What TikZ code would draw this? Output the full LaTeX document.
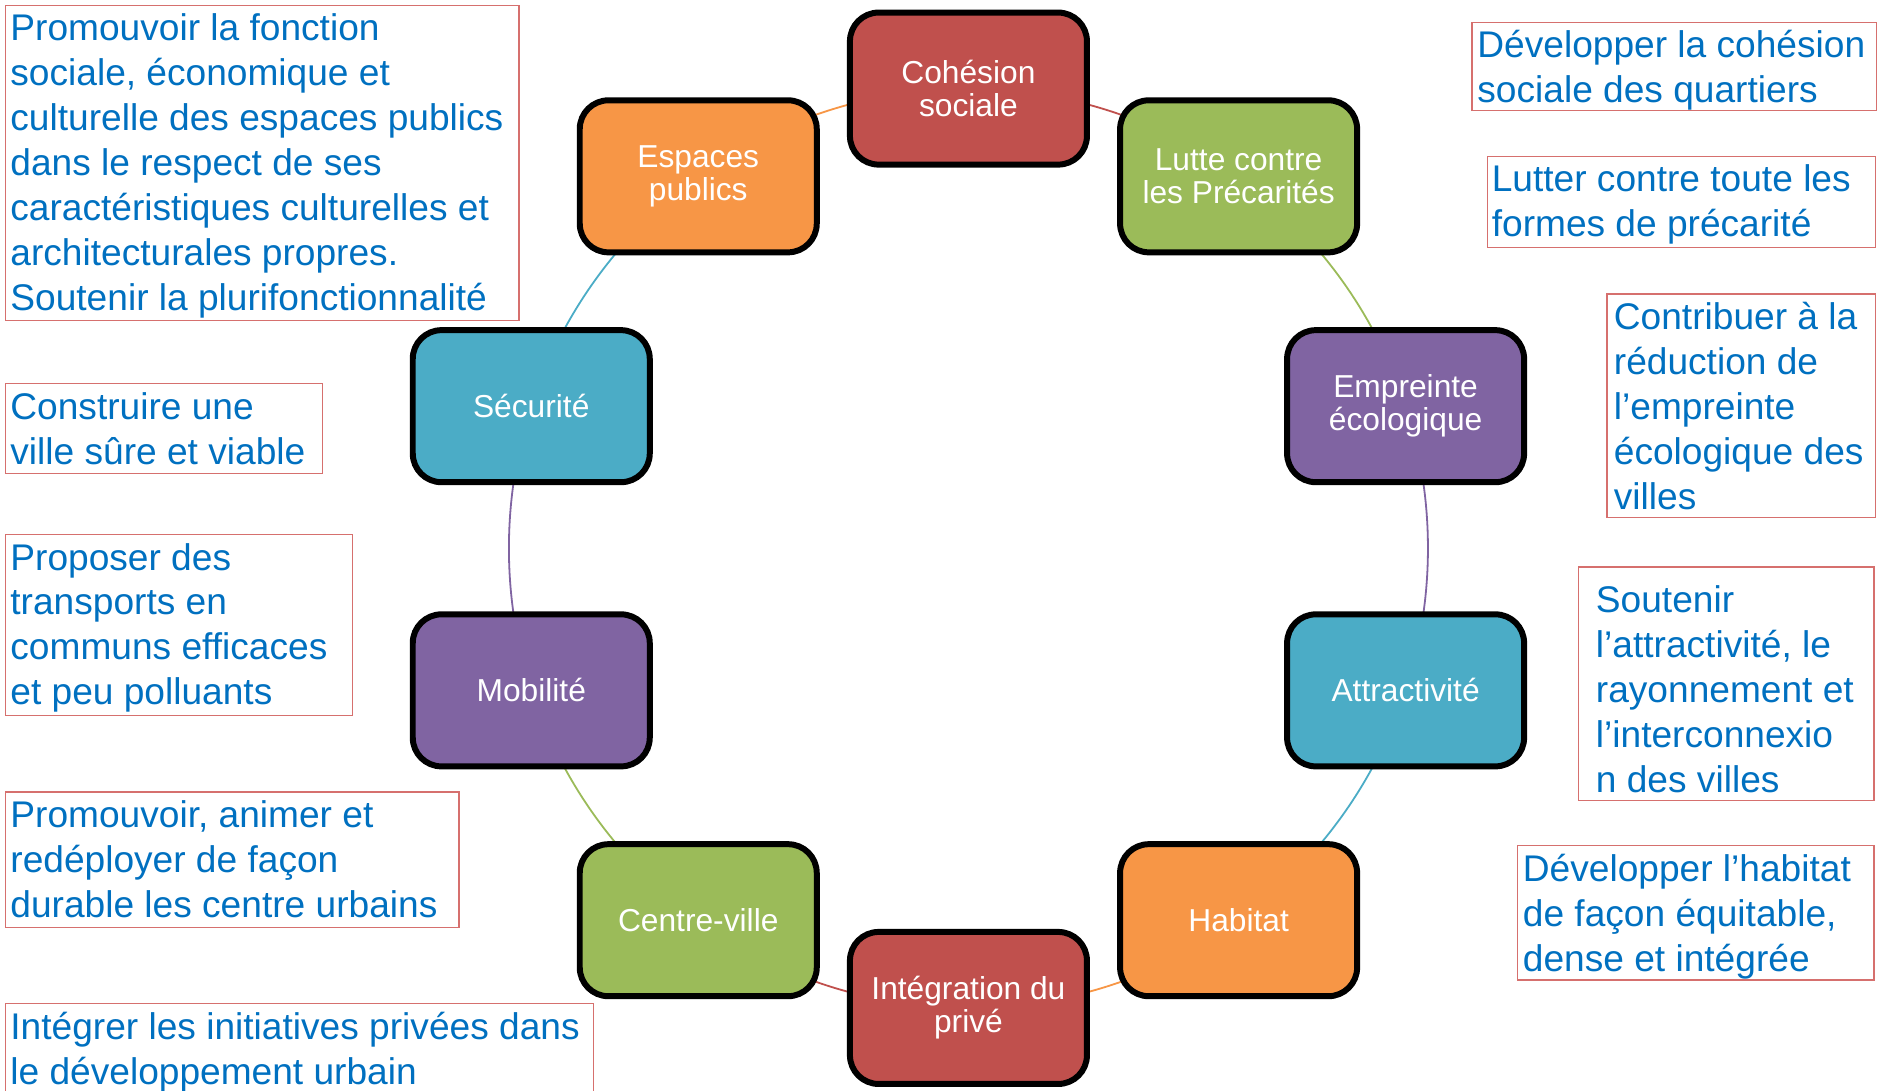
\documentclass[tikz,border=0pt]{standalone}
\usepackage{fontspec}
\setmainfont{Liberation Sans}
\pgfdeclarelayer{background}
\pgfsetlayers{background,main}
\definecolor{cRed}{HTML}{C0504D}
\definecolor{cGreen}{HTML}{9BBB59}
\definecolor{cPurple}{HTML}{8064A2}
\definecolor{cTeal}{HTML}{4BACC6}
\definecolor{cOrange}{HTML}{F79646}
\definecolor{txtblue}{HTML}{0070C0}
\definecolor{boxred}{RGB}{214,112,110}
\begin{document}
\begin{tikzpicture}[x=1pt,y=-1pt,
  item/.style={draw=black, line width=5pt, rounded corners=24pt,
    minimum width=198pt, minimum height=127pt, text=white, align=center,
    inner sep=4pt, font=\fontsize{26.5}{27.5}\selectfont},
  tbox/.style={draw=boxred, line width=1.1pt, anchor=north west, inner sep=0pt},
  txt/.style={text=txtblue, anchor=north west, inner sep=0pt, align=left,
    font=\fontsize{31}{37.5}\selectfont},
  conn/.style={line width=1.5pt, bend left=18, looseness=0.87}]
\useasboundingbox (0,0) rectangle (1568,910.6);

% cycle items
\node[item, fill=cRed]    (coh) at (809,74)      {Cohésion\\sociale};
\node[item, fill=cGreen]  (lut) at (1034.7,147.3) {Lutte contre\\les Précarités};
\node[item, fill=cPurple] (emp) at (1174.2,339.3) {Empreinte\\écologique};
\node[item, fill=cTeal]   (att) at (1174.2,576.7) {Attractivité};
\node[item, fill=cOrange] (hab) at (1034.7,768.7) {Habitat};
\node[item, fill=cRed]    (int) at (809,842)      {Intégration du\\privé};
\node[item, fill=cGreen]  (cen) at (583.3,768.7)  {Centre-ville};
\node[item, fill=cPurple] (mob) at (443.8,576.7)  {Mobilité};
\node[item, fill=cTeal]   (sec) at (443.8,339.3)  {Sécurité};
\node[item, fill=cOrange] (esp) at (583.3,147.3)  {Espaces\\publics};

\begin{pgfonlayer}{background}
\draw[conn, cOrange] (esp.center) to (coh.center);
\draw[conn, cRed]    (coh.center) to (lut.center);
\draw[conn, cGreen]  (lut.center) to (emp.center);
\draw[conn, cPurple] (emp.center) to (att.center);
\draw[conn, cTeal]   (att.center) to (hab.center);
\draw[conn, cOrange] (hab.center) to (int.center);
\draw[conn, cRed]    (int.center) to (cen.center);
\draw[conn, cGreen]  (cen.center) to (mob.center);
\draw[conn, cPurple] (mob.center) to (sec.center);
\draw[conn, cTeal]   (sec.center) to (esp.center);
\end{pgfonlayer}

% text boxes (left)
\node[tbox, minimum width=429pt, minimum height=263pt] (b1) at (4,4) {};
\node[txt] (t1) at (8.5,7.75) {\strut Promouvoir la fonction\\sociale, économique et\\culturelle des espaces publics\\dans le respect de ses\\caractéristiques culturelles et\\architecturales propres.\\Soutenir la plurifonctionnalité};

\node[tbox, minimum width=265pt, minimum height=75pt] (b2) at (4,320) {};
\node[txt] (t2) at (8.5,323.75) {\strut Construire une\\ville sûre et viable};

\node[tbox, minimum width=290pt, minimum height=151pt] (b3) at (4,446) {};
\node[txt] (t3) at (8.5,449.75) {\strut Proposer des\\transports en\\communs efficaces\\et peu polluants};

\node[tbox, minimum width=379pt, minimum height=113pt] (b4) at (4,661) {};
\node[txt] (t4) at (8.5,664.75) {\strut Promouvoir, animer et\\redéployer de façon\\durable les centre urbains};

\node[tbox, minimum width=491pt, minimum height=100pt] (b5) at (4,838) {};
\node[txt] (t5) at (8.5,841.75) {\strut Intégrer les initiatives privées dans\\le développement urbain};

% text boxes (right)
\node[tbox, minimum width=338pt, minimum height=74pt] (b6) at (1229,18) {};
\node[txt] (t6) at (1234,21.75) {\strut Développer la cohésion\\sociale des quartiers};

\node[tbox, minimum width=324pt, minimum height=76pt] (b7) at (1242,130) {};
\node[txt] (t7) at (1246,133.75) {\strut Lutter contre toute les\\formes de précarité};

\node[tbox, minimum width=224pt, minimum height=187pt] (b8) at (1342,245) {};
\node[txt] (t8) at (1348,248.75) {\strut Contribuer à la\\réduction de\\l’empreinte\\écologique des\\villes};

\node[tbox, minimum width=247pt, minimum height=195pt] (b9) at (1318,473) {};
\node[txt] (t9) at (1333,485.5) {\strut Soutenir\\l’attractivité, le\\rayonnement et\\l’interconnexio\\n des villes};

\node[tbox, minimum width=298pt, minimum height=112pt] (b10) at (1267,706) {};
\node[txt] (t10) at (1272,709.75) {\strut Développer l’habitat\\de façon équitable,\\dense et intégrée};
\end{tikzpicture}
\end{document}
